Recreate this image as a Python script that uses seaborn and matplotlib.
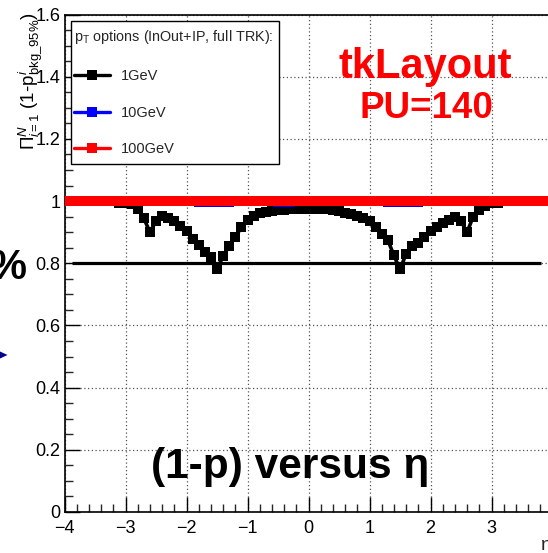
import numpy as np
import pandas as pd
import matplotlib
matplotlib.use("Agg")
import matplotlib.pyplot as plt
import seaborn as sns
from matplotlib.ticker import MultipleLocator, FuncFormatter
from matplotlib.lines import Line2D
from matplotlib.patches import Rectangle, Polygon

# ---------------- data ----------------
eta = [-4.0, -3.9, -3.8, -3.7, -3.6, -3.5, -3.4, -3.3, -3.2, -3.1,
       -3.0, -2.9, -2.8, -2.7, -2.6, -2.5, -2.4, -2.3, -2.2, -2.1,
       -2.0, -1.9, -1.8, -1.7, -1.6, -1.5, -1.4, -1.3, -1.2, -1.1,
       -1.0, -0.9, -0.8, -0.7, -0.6, -0.5, -0.4, -0.3, -0.2, -0.1,
       0.0, 0.1, 0.2, 0.3, 0.4, 0.5, 0.6, 0.7, 0.8, 0.9,
       1.0, 1.1, 1.2, 1.3, 1.4, 1.5, 1.6, 1.7, 1.8, 1.9,
       2.0, 2.1, 2.2, 2.3, 2.4, 2.5, 2.6, 2.7, 2.8, 2.9,
       3.0, 3.1, 3.2, 3.3, 3.4, 3.5, 3.6, 3.7, 3.8, 3.9, 4.0]

eff_1GeV = [1.0, 1.0, 1.0, 1.0, 1.0, 1.0, 1.0, 1.0, 1.0, 0.995,
            0.995, 0.99, 0.975, 0.945, 0.90, 0.935, 0.952, 0.945, 0.935, 0.92,
            0.905, 0.878, 0.858, 0.835, 0.82, 0.78, 0.823, 0.855, 0.885, 0.915,
            0.938, 0.952, 0.962, 0.966, 0.969, 0.971, 0.972, 0.973, 0.974, 0.974,
            0.974, 0.974, 0.974, 0.973, 0.971, 0.968, 0.963, 0.957, 0.952, 0.946,
            0.935, 0.915, 0.895, 0.875, 0.825, 0.78, 0.83, 0.855, 0.865, 0.885,
            0.903, 0.918, 0.928, 0.938, 0.95, 0.935, 0.90, 0.95, 0.972, 0.985,
            0.993, 0.995, 1.0, 1.0, 1.0, 1.0, 1.0, 1.0, 1.0, 1.0, 1.0]

eff_10GeV = [1.0, 1.0, 1.0, 1.0, 1.0, 1.0, 1.0, 1.0, 1.0, 1.0,
             1.0, 1.0, 1.0, 1.0, 1.0, 1.0, 1.0, 1.0, 1.0, 1.0,
             1.0, 1.0, 0.996, 0.996, 0.996, 0.996, 0.996, 0.996, 1.0, 1.0,
             1.0, 1.0, 1.0, 1.0, 1.0, 0.997, 0.997, 0.997, 1.0, 1.0,
             1.0, 1.0, 1.0, 1.0, 1.0, 1.0, 1.0, 1.0, 1.0, 1.0,
             1.0, 1.0, 1.0, 0.996, 0.996, 0.996, 0.996, 0.996, 0.996, 1.0,
             1.0, 1.0, 1.0, 1.0, 1.0, 1.0, 1.0, 1.0, 1.0, 1.0,
             1.0, 1.0, 1.0, 1.0, 1.0, 1.0, 1.0, 1.0, 1.0, 1.0, 1.0]

eff_100GeV = [1.0] * len(eta)

series_labels = ["1GeV", "10GeV", "100GeV"]
series_colors = ["#000000", "#0000FF", "#FF0000"]
series_values = [eff_1GeV, eff_10GeV, eff_100GeV]

threshold = 0.8
threshold_range = (-3.88, 3.81)

# ---------------- style ----------------
sns.set_style("ticks")
plt.rcParams['font.family'] = ['Liberation Sans', 'DejaVu Sans']
plt.rcParams['mathtext.fontset'] = 'custom'
plt.rcParams['mathtext.rm'] = 'Liberation Sans'
plt.rcParams['mathtext.it'] = 'Liberation Sans:italic'
plt.rcParams['mathtext.bf'] = 'Liberation Sans:bold'

W, H = 548, 553
fig = plt.figure(figsize=(W / 100, H / 100), dpi=100)
fig.patch.set_facecolor("white")

x0_px, xunit = 64.5, 61.0
y0_px, ytop_px = 512.0, 14.5
xmin, xmax = -4.0, 4.2
ax = fig.add_axes([x0_px / W, (H - y0_px) / H,
                   (xmax - xmin) * xunit / W, (y0_px - ytop_px) / H])
ax.set_xlim(xmin, xmax)
ax.set_ylim(0, 1.6)
ax.set_facecolor("white")

# grid
ax.set_axisbelow(True)
ax.grid(True, which="major", color="#555555", linestyle=(0, (1, 2)), linewidth=0.9)

# threshold line
ax.hlines(threshold, threshold_range[0], threshold_range[1], color="black",
          linewidth=2.3, zorder=2)

# series
msize = 6.8
for vals, col, lab, z in zip(series_values, series_colors, series_labels, [3, 4, 5]):
    df = pd.DataFrame({"eta": eta, "val": vals})
    sns.lineplot(data=df, x="eta", y="val", ax=ax, color=col, marker="s",
                 markersize=msize, markeredgewidth=0, linewidth=2.6,
                 estimator=None, sort=False, legend=False, zorder=z)

# axes, ticks
ax.xaxis.set_major_locator(MultipleLocator(1))
ax.xaxis.set_minor_locator(MultipleLocator(0.2))
ax.yaxis.set_major_locator(MultipleLocator(0.2))
ax.yaxis.set_minor_locator(MultipleLocator(0.05))
ax.yaxis.set_major_formatter(FuncFormatter(lambda v, p: f"{v:g}"))
ax.xaxis.set_major_formatter(FuncFormatter(lambda v, p: f"{v:g}".replace("-", "\u2212")))
ax.tick_params(axis="both", which="major", direction="in", length=10.5, width=1.0,
               labelsize=13, color="black", labelcolor="black")
ax.tick_params(axis="both", which="minor", direction="in", length=5.5, width=1.0)
ax.tick_params(axis="x", which="major", pad=6)
ax.tick_params(axis="y", which="major", pad=3)
ax.set_xlabel("")
ax.set_ylabel("")
for s in ax.spines.values():
    s.set_color("black")
    s.set_linewidth(1.2)

# legend frame + legend
ax.add_patch(Rectangle((70.7 / W, 1 - 164 / H), (279 - 70.7) / W, (164 - 20.7) / H,
                       transform=fig.transFigure, facecolor="white", edgecolor="black",
                       linewidth=1.0, zorder=6, clip_on=False))
handles = [Line2D([], [], color=c, marker="s", markersize=msize, markeredgewidth=0, lw=2.4)
           for c in series_colors]
leg = ax.legend(handles, series_labels,
                title=r"p$_{\mathrm{T}}$ options (InOut+IP, full TRK):",
                loc="upper left", bbox_to_anchor=(74 / W, 1 - 28.5 / H),
                bbox_transform=fig.transFigure, borderaxespad=0, borderpad=0,
                fontsize=10.5, title_fontsize=10.4, frameon=False,
                handlelength=2.5, handletextpad=0.7, labelspacing=1.55,
                alignment="left")
leg.set_zorder(7)

# texts
fig.text(425 / W, 1 - 67 / H, "tkLayout", color="#FF0000", fontsize=30,
         fontweight="bold", ha="center", va="center")
fig.text(426 / W, 1 - 108 / H, "PU=140", color="#FF0000", fontsize=26.5,
         fontweight="bold", ha="center", va="center")
fig.text(290 / W, 1 - 467 / H, "(1-p) versus \u03b7", color="black", fontsize=30.5,
         fontweight="bold", ha="center", va="center")
fig.text(30 / W, 1 - 12 / H,
         r"$\Pi^{N}_{i=1}$ (1-p$^{i}_{\mathrm{bkg\_95\%}}$)",
         rotation=90, fontsize=13.5, ha="center", va="top", color="black")
fig.text(541 / W, 1 - 545 / H, "\u03b7", fontsize=14, ha="left", va="center")
fig.text(27 / W, 1 - 268 / H, "%", fontsize=30, fontweight="bold",
         ha="right", va="center", color="black")
fig.patches.append(Polygon([(0, 1 - 351.5 / H), (7.5 / W, 1 - 355 / H), (0, 1 - 358.5 / H)],
                           closed=True, transform=fig.transFigure, facecolor="#00008B",
                           edgecolor="none", figure=fig))

fig.savefig("out.png", dpi=100, facecolor="white")
